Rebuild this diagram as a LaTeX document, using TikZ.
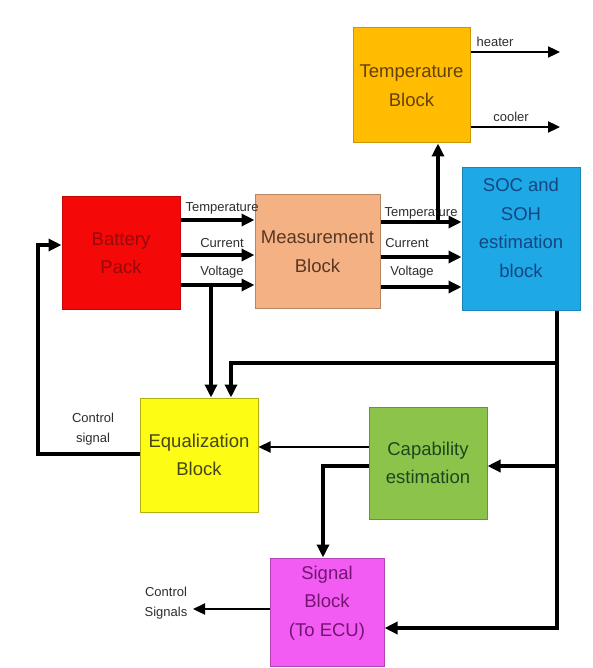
\documentclass[tikz,border=0pt]{standalone}
\usepackage{fontspec}
\setmainfont{Liberation Sans}
\usetikzlibrary{arrows.meta}
\definecolor{batfill}{RGB}{245,8,8}
\definecolor{battxt}{RGB}{150,10,10}
\definecolor{measfill}{RGB}{244,177,131}
\definecolor{meastxt}{RGB}{90,55,35}
\definecolor{tempfill}{RGB}{255,188,0}
\definecolor{temptxt}{RGB}{100,65,10}
\definecolor{socfill}{RGB}{30,168,230}
\definecolor{soctxt}{RGB}{20,70,130}
\definecolor{eqfill}{RGB}{252,252,20}
\definecolor{eqtxt}{RGB}{70,70,20}
\definecolor{capfill}{RGB}{140,196,75}
\definecolor{captxt}{RGB}{30,70,30}
\definecolor{sigfill}{RGB}{242,92,242}
\definecolor{sigtxt}{RGB}{115,20,115}
\definecolor{lbltxt}{RGB}{45,45,45}
\begin{document}
\begin{tikzpicture}[x=1pt,y=-1pt,
  blk/.style={line width=1pt, inner sep=0pt, align=center,
    font=\fontsize{18.5}{28.5}\selectfont},
  btxt/.style={inner sep=0pt, align=center, font=\fontsize{18.5}{28.5}\selectfont},
  arr/.style={line width=3.4pt, -{Triangle[length=13pt,width=12pt]}},
  tarr/.style={line width=2.3pt, -{Triangle[length=12pt,width=11pt]}},
  lbl/.style={inner sep=0pt, text=lbltxt, align=center, font=\fontsize{13}{20.5}\selectfont}]
\useasboundingbox (0,0) rectangle (593,668);
\fill[white] (0,0) rectangle (593,668);

% blocks
\node[blk, fill=batfill, draw=batfill!80!black, text=battxt,
  minimum width=118pt, minimum height=112pt] (bat) at (121,253) {Battery\\Pack};
\node[blk, fill=measfill, draw=measfill!75!black, text=meastxt,
  minimum width=125pt, minimum height=113pt] (meas) at (317.5,251.5) {Measurement\\Block};
\node[blk, fill=tempfill, draw=tempfill!80!black, text=temptxt,
  minimum width=117pt, minimum height=115pt] (temp) at (411.5,85.5) {Temperature\\Block};
\node[blk, fill=socfill, draw=socfill!80!black,
  minimum width=118pt, minimum height=142pt] (soc) at (521,239) {};
\node[btxt, text=soctxt] (soctext) at (521,228) {SOC and\\SOH\\estimation\\block};
\node[blk, fill=eqfill, draw=eqfill!70!black, text=eqtxt,
  minimum width=118pt, minimum height=114pt] (eq) at (199,455) {Equalization\\Block};
\node[blk, fill=capfill, draw=capfill!75!black, text=captxt,
  minimum width=118pt, minimum height=112pt] (cap) at (428,463) {Capability\\estimation};
\node[blk, fill=sigfill, draw=sigfill!75!black,
  minimum width=114pt, minimum height=108pt] (sig) at (327,612) {};
\node[btxt, text=sigtxt] (sigtext) at (327,603) {Signal\\Block\\(To ECU)};

% battery -> measurement
\draw[arr] (bat.east |- 0,220) -- (meas.west |- 0,220);
\draw[arr] (bat.east |- 0,255) -- (meas.west |- 0,255);
\draw[arr] (bat.east |- 0,285) -- (meas.west |- 0,285);
\node[lbl] (l1) at (222,208) {Temperature};
\node[lbl] (l2) at (222,243) {Current};
\node[lbl] (l3) at (222,272) {Voltage};

% measurement -> SOC
\draw[arr] (meas.east |- 0,222) -- (soc.west |- 0,222);
\draw[arr] (meas.east |- 0,257) -- (soc.west |- 0,257);
\draw[arr] (meas.east |- 0,287) -- (soc.west |- 0,287);
\node[lbl] (r1) at (421,213) {Temperature};
\node[lbl] (r2) at (407,243) {Current};
\node[lbl] (r3) at (412,272) {Voltage};

% to temperature block
\coordinate (tj) at (438,222);
\draw[arr] (tj) -- (temp.south -| tj);

% heater / cooler
\coordinate (hend) at (560,52);
\coordinate (cend) at (560,127);
\draw[tarr] (temp.east |- hend) -- (hend);
\draw[tarr] (temp.east |- cend) -- (cend);
\node[lbl] (lh) at (495,42) {heater};
\node[lbl] (lc) at (511,117) {cooler};

% voltage down to equalization
\coordinate (vj) at (211,285);
\draw[arr] (vj) -- (eq.north -| vj);

% SOC outputs
\coordinate (sd) at (557,628);
\coordinate (b1) at (557,363);
\coordinate (b1c) at (231,363);
\coordinate (b2) at (557,466);
\draw[arr] (soc.south -| sd) -- (sd) -- (sig.east |- sd);
\draw[arr] (b1) -- (b1c) -- (eq.north -| b1c);
\draw[arr] (b2) -- (cap.east |- b2);

% capability outputs
\coordinate (ce) at (0,447);
\draw[tarr] (cap.west |- ce) -- (eq.east |- ce);
\coordinate (cs) at (323,466);
\draw[arr] (cap.west |- cs) -- (cs) -- (sig.north -| cs);

% signal -> control signals
\coordinate (send) at (193,609);
\draw[tarr] (sig.west |- send) -- (send);
\node[lbl] (lcs) at (166,603) {Control\\Signals};

% feedback control signal
\coordinate (fb1) at (38,454);
\coordinate (fb2) at (38,245);
\draw[arr] (eq.west |- fb1) -- (fb1) -- (fb2) -- (bat.west |- fb2);
\node[lbl] (lfb) at (93,429) {Control\\signal};
\end{tikzpicture}
\end{document}
